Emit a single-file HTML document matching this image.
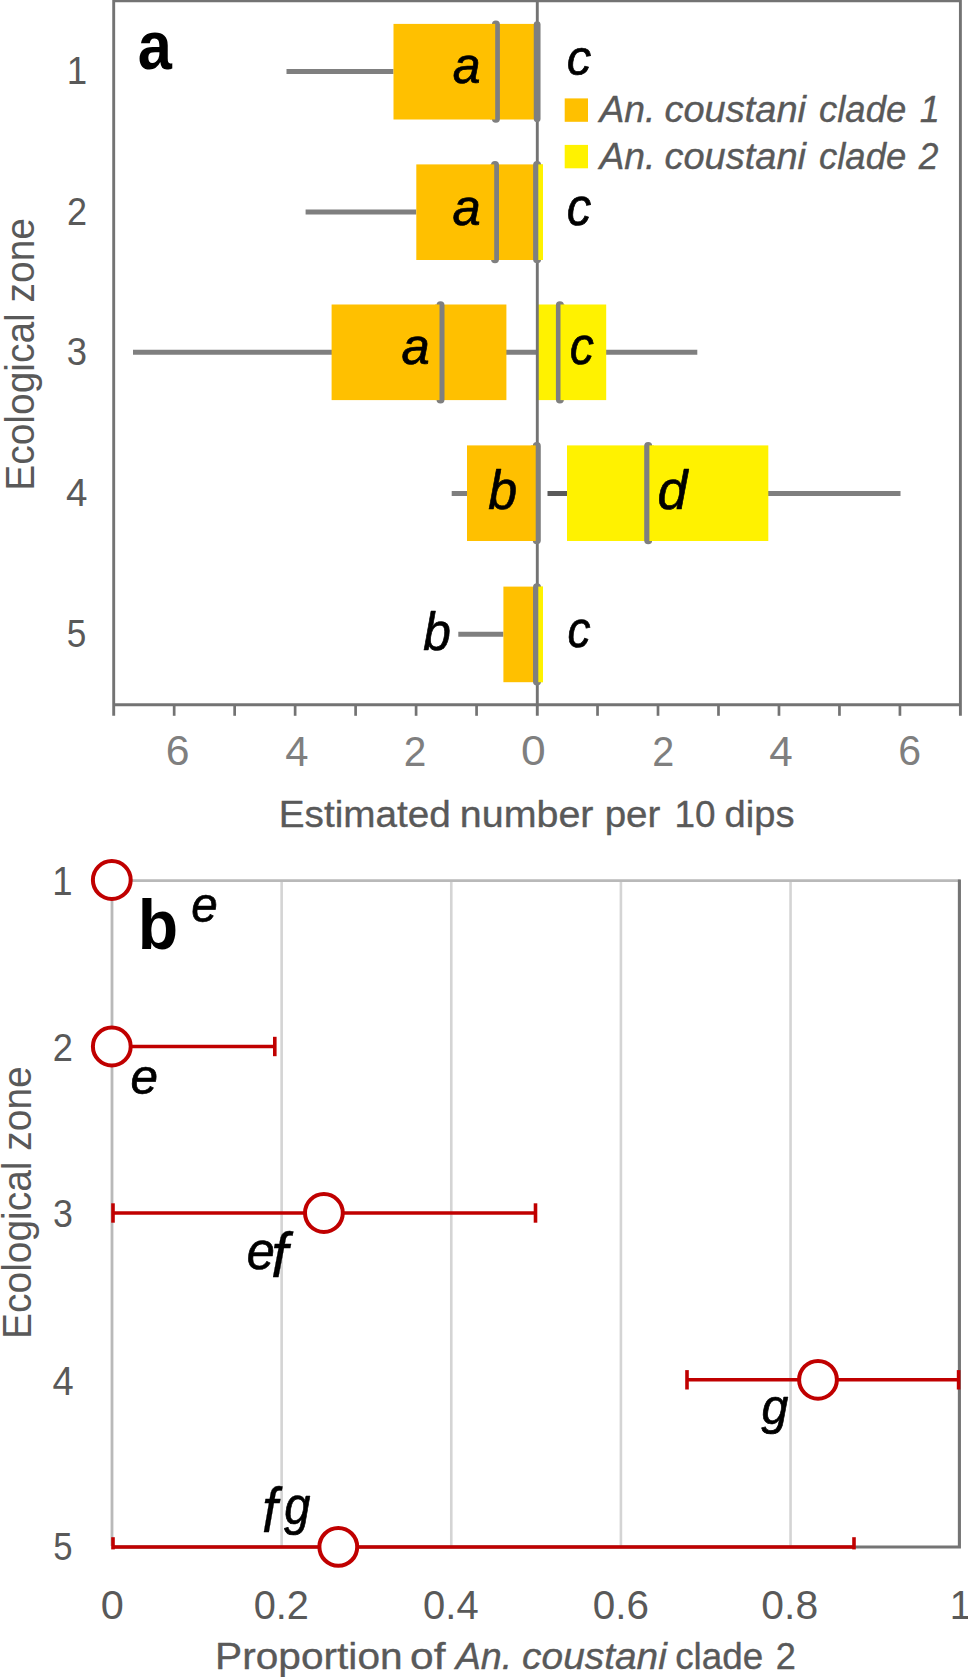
<!DOCTYPE html>
<html><head><meta charset="utf-8"><title>Figure</title>
<style>
html,body{margin:0;padding:0;background:#fff;}
body{width:968px;height:1677px;overflow:hidden;}
svg{display:block;font-family:"Liberation Sans",sans-serif;}
</style></head><body>
<svg width="968" height="1677" viewBox="0 0 968 1677">
<rect width="968" height="1677" fill="#fff"/>
<line x1="286.50" y1="71.50" x2="393.50" y2="71.50" stroke="#7f7f7f" stroke-width="5"/>
<line x1="305.60" y1="211.90" x2="416.30" y2="211.90" stroke="#7f7f7f" stroke-width="5"/>
<line x1="133.00" y1="352.30" x2="697.30" y2="352.30" stroke="#7f7f7f" stroke-width="5"/>
<line x1="451.70" y1="493.50" x2="467.50" y2="493.50" stroke="#7f7f7f" stroke-width="5"/>
<line x1="547.50" y1="493.50" x2="567.50" y2="493.50" stroke="#5a5a5a" stroke-width="5"/>
<line x1="768.00" y1="493.50" x2="900.50" y2="493.50" stroke="#7f7f7f" stroke-width="5"/>
<line x1="458.30" y1="634.20" x2="503.40" y2="634.20" stroke="#7f7f7f" stroke-width="5"/>
<rect x="393.50" y="23.90" width="143.55" height="95.60" fill="#FFC000"/>
<rect x="416.30" y="164.40" width="120.75" height="95.60" fill="#FFC000"/>
<rect x="537.05" y="164.40" width="5.85" height="95.60" fill="#FFF200"/>
<rect x="331.60" y="304.50" width="174.80" height="95.60" fill="#FFC000"/>
<rect x="537.05" y="304.50" width="69.15" height="95.60" fill="#FFF200"/>
<rect x="467.00" y="445.40" width="70.05" height="95.60" fill="#FFC000"/>
<rect x="567.00" y="445.40" width="201.30" height="95.60" fill="#FFF200"/>
<rect x="503.40" y="586.60" width="33.65" height="95.60" fill="#FFC000"/>
<rect x="537.05" y="586.60" width="5.85" height="95.60" fill="#FFF200"/>
<path d="M113.70,715.80 V0.80 H960.40 V715.80" fill="none" stroke="#737373" stroke-width="2.9"/>
<line x1="113.70" y1="704.80" x2="960.40" y2="704.80" stroke="#737373" stroke-width="2.9"/>
<line x1="537.30" y1="0.80" x2="537.30" y2="715.80" stroke="#737373" stroke-width="2.9"/>
<line x1="174.17" y1="704.80" x2="174.17" y2="715.80" stroke="#737373" stroke-width="2.7"/>
<line x1="234.65" y1="704.80" x2="234.65" y2="715.80" stroke="#737373" stroke-width="2.7"/>
<line x1="295.13" y1="704.80" x2="295.13" y2="715.80" stroke="#737373" stroke-width="2.7"/>
<line x1="355.61" y1="704.80" x2="355.61" y2="715.80" stroke="#737373" stroke-width="2.7"/>
<line x1="416.09" y1="704.80" x2="416.09" y2="715.80" stroke="#737373" stroke-width="2.7"/>
<line x1="476.57" y1="704.80" x2="476.57" y2="715.80" stroke="#737373" stroke-width="2.7"/>
<line x1="597.53" y1="704.80" x2="597.53" y2="715.80" stroke="#737373" stroke-width="2.7"/>
<line x1="658.01" y1="704.80" x2="658.01" y2="715.80" stroke="#737373" stroke-width="2.7"/>
<line x1="718.49" y1="704.80" x2="718.49" y2="715.80" stroke="#737373" stroke-width="2.7"/>
<line x1="778.97" y1="704.80" x2="778.97" y2="715.80" stroke="#737373" stroke-width="2.7"/>
<line x1="839.45" y1="704.80" x2="839.45" y2="715.80" stroke="#737373" stroke-width="2.7"/>
<line x1="899.93" y1="704.80" x2="899.93" y2="715.80" stroke="#737373" stroke-width="2.7"/>
<line x1="495.90" y1="24.60" x2="495.90" y2="118.80" stroke="#7f7f7f" stroke-width="8.0" stroke-linecap="round"/>
<rect x="490.00" y="23.90" width="5.20" height="95.60" fill="#FFC000"/>
<line x1="537.15" y1="24.60" x2="537.15" y2="118.80" stroke="#7f7f7f" stroke-width="6.8" stroke-linecap="round"/>
<line x1="495.00" y1="165.10" x2="495.00" y2="259.30" stroke="#7f7f7f" stroke-width="8.0" stroke-linecap="round"/>
<rect x="490.00" y="164.40" width="4.20" height="95.60" fill="#FFC000"/>
<line x1="537.10" y1="165.10" x2="537.10" y2="259.30" stroke="#7f7f7f" stroke-width="8.0" stroke-linecap="round"/>
<rect x="538.30" y="164.40" width="4.60" height="95.60" fill="#FFF200"/>
<line x1="440.50" y1="305.20" x2="440.50" y2="399.40" stroke="#7f7f7f" stroke-width="8.0" stroke-linecap="round"/>
<rect x="435.00" y="304.50" width="4.50" height="95.60" fill="#FFC000"/>
<line x1="559.90" y1="305.20" x2="559.90" y2="399.40" stroke="#7f7f7f" stroke-width="8.0" stroke-linecap="round"/>
<rect x="560.50" y="304.50" width="4.50" height="95.60" fill="#FFF200"/>
<line x1="536.80" y1="446.10" x2="536.80" y2="540.30" stroke="#7f7f7f" stroke-width="8.0" stroke-linecap="round"/>
<rect x="531.00" y="445.40" width="4.70" height="95.60" fill="#FFC000"/>
<line x1="648.20" y1="446.10" x2="648.20" y2="540.30" stroke="#7f7f7f" stroke-width="8.0" stroke-linecap="round"/>
<rect x="649.40" y="445.40" width="4.60" height="95.60" fill="#FFF200"/>
<line x1="537.00" y1="587.30" x2="537.00" y2="681.50" stroke="#7f7f7f" stroke-width="8.0" stroke-linecap="round"/>
<rect x="538.30" y="586.60" width="4.60" height="95.60" fill="#FFF200"/>
<text transform="translate(137.86,69.12) scale(0.6141,0.6831)" font-size="100" font-weight="bold" fill="#000">a</text>
<text transform="translate(66.74,83.50) scale(0.3676,0.3869)" font-size="100" fill="#595959">1</text>
<text transform="translate(66.90,224.50) scale(0.3604,0.3857)" font-size="100" fill="#595959">2</text>
<text transform="translate(66.63,365.31) scale(0.3642,0.3859)" font-size="100" fill="#595959">3</text>
<text transform="translate(66.03,506.40) scale(0.3861,0.3942)" font-size="100" fill="#595959">4</text>
<text transform="translate(66.79,647.11) scale(0.3516,0.3857)" font-size="100" fill="#595959">5</text>
<text transform="translate(33.80,490.71) rotate(-90) scale(0.3894,0.4030)" font-size="100" fill="#595959">Ecological zone</text>
<text transform="translate(452.83,82.83) scale(0.5000,0.5151)" font-size="100" font-style="italic" fill="#000" stroke="#000" stroke-width="1.36" stroke-linejoin="round">a</text>
<text transform="translate(566.86,74.65) scale(0.4896,0.5005)" font-size="100" font-style="italic" fill="#000" stroke="#000" stroke-width="1.40" stroke-linejoin="round">c</text>
<text transform="translate(452.41,224.84) scale(0.5080,0.5132)" font-size="100" font-style="italic" fill="#000" stroke="#000" stroke-width="1.36" stroke-linejoin="round">a</text>
<text transform="translate(566.86,225.33) scale(0.4896,0.5151)" font-size="100" font-style="italic" fill="#000" stroke="#000" stroke-width="1.36" stroke-linejoin="round">c</text>
<text transform="translate(401.51,364.13) scale(0.5080,0.5169)" font-size="100" font-style="italic" fill="#000" stroke="#000" stroke-width="1.35" stroke-linejoin="round">a</text>
<text transform="translate(569.68,364.13) scale(0.4831,0.5169)" font-size="100" font-style="italic" fill="#000" stroke="#000" stroke-width="1.35" stroke-linejoin="round">c</text>
<text transform="translate(488.17,509.40) scale(0.5196,0.5537)" font-size="100" font-style="italic" fill="#000" stroke="#000" stroke-width="1.26" stroke-linejoin="round">b</text>
<text transform="translate(657.60,509.40) scale(0.5382,0.5537)" font-size="100" font-style="italic" fill="#000" stroke="#000" stroke-width="1.26" stroke-linejoin="round">d</text>
<text transform="translate(423.21,649.72) scale(0.4961,0.5306)" font-size="100" font-style="italic" fill="#000" stroke="#000" stroke-width="1.32" stroke-linejoin="round">b</text>
<text transform="translate(567.45,646.53) scale(0.4612,0.5169)" font-size="100" font-style="italic" fill="#000" stroke="#000" stroke-width="1.35" stroke-linejoin="round">c</text>
<rect x="564.7" y="98.4" width="23.3" height="23.4" fill="#FFC000"/>
<rect x="564.7" y="144.9" width="23.3" height="23.4" fill="#FFF200"/>
<text transform="translate(0,122.30) scale(0.3650)" font-size="100" font-style="italic" fill="#595959" stroke="#595959" stroke-width="0.96" stroke-linejoin="round"><tspan x="1642.30" textLength="153.40" lengthAdjust="spacingAndGlyphs">An.</tspan> <tspan x="1820.38" textLength="387.72" lengthAdjust="spacingAndGlyphs">coustani</tspan> <tspan x="2243.81" textLength="239.01" lengthAdjust="spacingAndGlyphs">clade</tspan> <tspan x="2520.20" textLength="54.99" lengthAdjust="spacingAndGlyphs">1</tspan></text>
<text transform="translate(0,168.50) scale(0.3650)" font-size="100" font-style="italic" fill="#595959" stroke="#595959" stroke-width="0.96" stroke-linejoin="round"><tspan x="1642.30" textLength="153.40" lengthAdjust="spacingAndGlyphs">An.</tspan> <tspan x="1820.38" textLength="387.72" lengthAdjust="spacingAndGlyphs">coustani</tspan> <tspan x="2243.81" textLength="239.01" lengthAdjust="spacingAndGlyphs">clade</tspan> <tspan x="2517.40" textLength="53.85" lengthAdjust="spacingAndGlyphs">2</tspan></text>
<text transform="translate(165.86,765.38) scale(0.4281,0.4170)" font-size="100" fill="#7f7f7f">6</text>
<text transform="translate(285.36,765.50) scale(0.4178,0.4247)" font-size="100" fill="#7f7f7f">4</text>
<text transform="translate(403.67,765.50) scale(0.4066,0.4186)" font-size="100" fill="#7f7f7f">2</text>
<text transform="translate(521.02,765.38) scale(0.4440,0.4170)" font-size="100" fill="#7f7f7f">0</text>
<text transform="translate(652.32,765.50) scale(0.3956,0.4186)" font-size="100" fill="#7f7f7f">2</text>
<text transform="translate(769.25,765.50) scale(0.4218,0.4247)" font-size="100" fill="#7f7f7f">4</text>
<text transform="translate(898.25,765.38) scale(0.4108,0.4170)" font-size="100" fill="#7f7f7f">6</text>
<text transform="translate(0,827.40) scale(0.3640)" font-size="100" fill="#595959" stroke="#595959" stroke-width="0.96" stroke-linejoin="round"><tspan x="765.88" textLength="472.85" lengthAdjust="spacingAndGlyphs">Estimated</tspan> <tspan x="1263.23" textLength="367.11" lengthAdjust="spacingAndGlyphs">number</tspan> <tspan x="1661.18" textLength="153.16" lengthAdjust="spacingAndGlyphs">per</tspan> <tspan x="1852.76" textLength="112.89" lengthAdjust="spacingAndGlyphs">10</tspan> <tspan x="1990.54" textLength="191.99" lengthAdjust="spacingAndGlyphs">dips</tspan></text>
<line x1="281.64" y1="880.60" x2="281.64" y2="1546.00" stroke="#d4d4d4" stroke-width="2.6"/>
<line x1="451.28" y1="880.60" x2="451.28" y2="1546.00" stroke="#d4d4d4" stroke-width="2.6"/>
<line x1="620.92" y1="880.60" x2="620.92" y2="1546.00" stroke="#d4d4d4" stroke-width="2.6"/>
<line x1="790.56" y1="880.60" x2="790.56" y2="1546.00" stroke="#d4d4d4" stroke-width="2.6"/>
<path d="M112.00,1546.00 V880.60 H960.20" fill="none" stroke="#b9b9b9" stroke-width="2.8"/>
<path d="M112.00,1547.00 H959.40 V879.60" fill="none" stroke="#747474" stroke-width="3.1"/>
<line x1="112.00" y1="1046.50" x2="274.80" y2="1046.50" stroke="#C00000" stroke-width="3.5"/>
<line x1="274.80" y1="1036.80" x2="274.80" y2="1056.20" stroke="#C00000" stroke-width="3.6"/>
<line x1="113.00" y1="1213.00" x2="535.50" y2="1213.00" stroke="#C00000" stroke-width="3.5"/>
<line x1="113.00" y1="1203.30" x2="113.00" y2="1222.70" stroke="#C00000" stroke-width="3.6"/>
<line x1="535.50" y1="1203.30" x2="535.50" y2="1222.70" stroke="#C00000" stroke-width="3.6"/>
<line x1="687.00" y1="1379.80" x2="958.60" y2="1379.80" stroke="#C00000" stroke-width="3.5"/>
<line x1="687.00" y1="1370.10" x2="687.00" y2="1389.50" stroke="#C00000" stroke-width="3.6"/>
<line x1="958.60" y1="1370.10" x2="958.60" y2="1389.50" stroke="#C00000" stroke-width="3.6"/>
<line x1="113.00" y1="1546.90" x2="854.00" y2="1546.90" stroke="#C00000" stroke-width="3.5"/>
<line x1="113.00" y1="1537.20" x2="113.00" y2="1549.40" stroke="#C00000" stroke-width="3.6"/>
<line x1="854.00" y1="1537.20" x2="854.00" y2="1549.40" stroke="#C00000" stroke-width="3.6"/>
<circle cx="111.80" cy="880.00" r="18.9" fill="#fff" stroke="#C00000" stroke-width="4"/>
<circle cx="111.80" cy="1046.50" r="18.9" fill="#fff" stroke="#C00000" stroke-width="4"/>
<circle cx="323.90" cy="1213.00" r="18.9" fill="#fff" stroke="#C00000" stroke-width="4"/>
<circle cx="818.00" cy="1379.80" r="18.9" fill="#fff" stroke="#C00000" stroke-width="4"/>
<circle cx="338.30" cy="1546.90" r="18.9" fill="#fff" stroke="#C00000" stroke-width="4"/>
<text transform="translate(52.26,894.70) scale(0.3653,0.4015)" font-size="100" fill="#595959">1</text>
<text transform="translate(52.84,1061.20) scale(0.3626,0.3957)" font-size="100" fill="#595959">2</text>
<text transform="translate(53.06,1227.31) scale(0.3579,0.3901)" font-size="100" fill="#595959">3</text>
<text transform="translate(52.39,1394.50) scale(0.3822,0.4015)" font-size="100" fill="#595959">4</text>
<text transform="translate(53.26,1560.30) scale(0.3474,0.3957)" font-size="100" fill="#595959">5</text>
<text transform="translate(30.90,1338.91) rotate(-90) scale(0.3894,0.4030)" font-size="100" fill="#595959">Ecological zone</text>
<text transform="translate(137.80,949.00) scale(0.6614,0.7034)" font-size="100" font-weight="bold" fill="#000">b</text>
<text transform="translate(191.30,922.25) scale(0.4759,0.5023)" font-size="100" font-style="italic" fill="#000" stroke="#000" stroke-width="1.39" stroke-linejoin="round">e</text>
<text transform="translate(130.44,1093.54) scale(0.4944,0.5078)" font-size="100" font-style="italic" fill="#000" stroke="#000" stroke-width="1.38" stroke-linejoin="round">e</text>
<text transform="translate(246.81,1268.84) scale(0.5046,0.5114)" font-size="100" font-style="italic" fill="#000" stroke="#000" stroke-width="1.37" stroke-linejoin="round"><tspan x="0" y="0">e</tspan><tspan x="47.94" y="15.36" font-size="121.61" stroke-width="0.59">f</tspan></text>
<text transform="translate(761.43,1424.20) scale(0.4826,0.4940)" font-size="100" font-style="italic" fill="#000" stroke="#000" stroke-width="1.42" stroke-linejoin="round">g</text>
<text transform="translate(284.13,1523.72) scale(0.4697,0.5221)" font-size="100" font-style="italic" fill="#000" stroke="#000" stroke-width="1.34" stroke-linejoin="round"><tspan x="-46.88" y="16.59" font-size="119.82" stroke-width="0.57">f</tspan><tspan x="0" y="0">g</tspan></text>
<text transform="translate(100.74,1618.59) scale(0.4147,0.4099)" font-size="100" fill="#595959">0</text>
<text transform="translate(253.71,1618.59) scale(0.3977,0.4099)" font-size="100" fill="#595959">0.2</text>
<text transform="translate(423.10,1618.59) scale(0.4000,0.4099)" font-size="100" fill="#595959">0.4</text>
<text transform="translate(592.78,1618.59) scale(0.4046,0.4099)" font-size="100" fill="#595959">0.6</text>
<text transform="translate(761.37,1618.59) scale(0.4084,0.4099)" font-size="100" fill="#595959">0.8</text>
<text transform="translate(949.69,1618.60) scale(0.3884,0.4102)" font-size="100" fill="#595959">1</text>
<text transform="translate(0,1669.10) scale(0.3650)" font-size="100" fill="#595959" stroke="#595959" stroke-width="0.96" stroke-linejoin="round"><tspan x="589.38" textLength="513.70" lengthAdjust="spacingAndGlyphs">Proportion</tspan> <tspan x="1123.19" textLength="97.31" lengthAdjust="spacingAndGlyphs">of</tspan></text>
<text transform="translate(0,1669.10) scale(0.3650)" font-size="100" font-style="italic" fill="#595959" stroke="#595959" stroke-width="0.96" stroke-linejoin="round"><tspan x="1248.38" textLength="154.84" lengthAdjust="spacingAndGlyphs">An.</tspan> <tspan x="1430.44" textLength="396.51" lengthAdjust="spacingAndGlyphs">coustani</tspan></text>
<text transform="translate(0,1669.10) scale(0.3650)" font-size="100" fill="#595959" stroke="#595959" stroke-width="0.96" stroke-linejoin="round"><tspan x="1849.89" textLength="241.11" lengthAdjust="spacingAndGlyphs">clade</tspan> <tspan x="2125.66" textLength="55.09" lengthAdjust="spacingAndGlyphs">2</tspan></text>
</svg>
</body></html>
